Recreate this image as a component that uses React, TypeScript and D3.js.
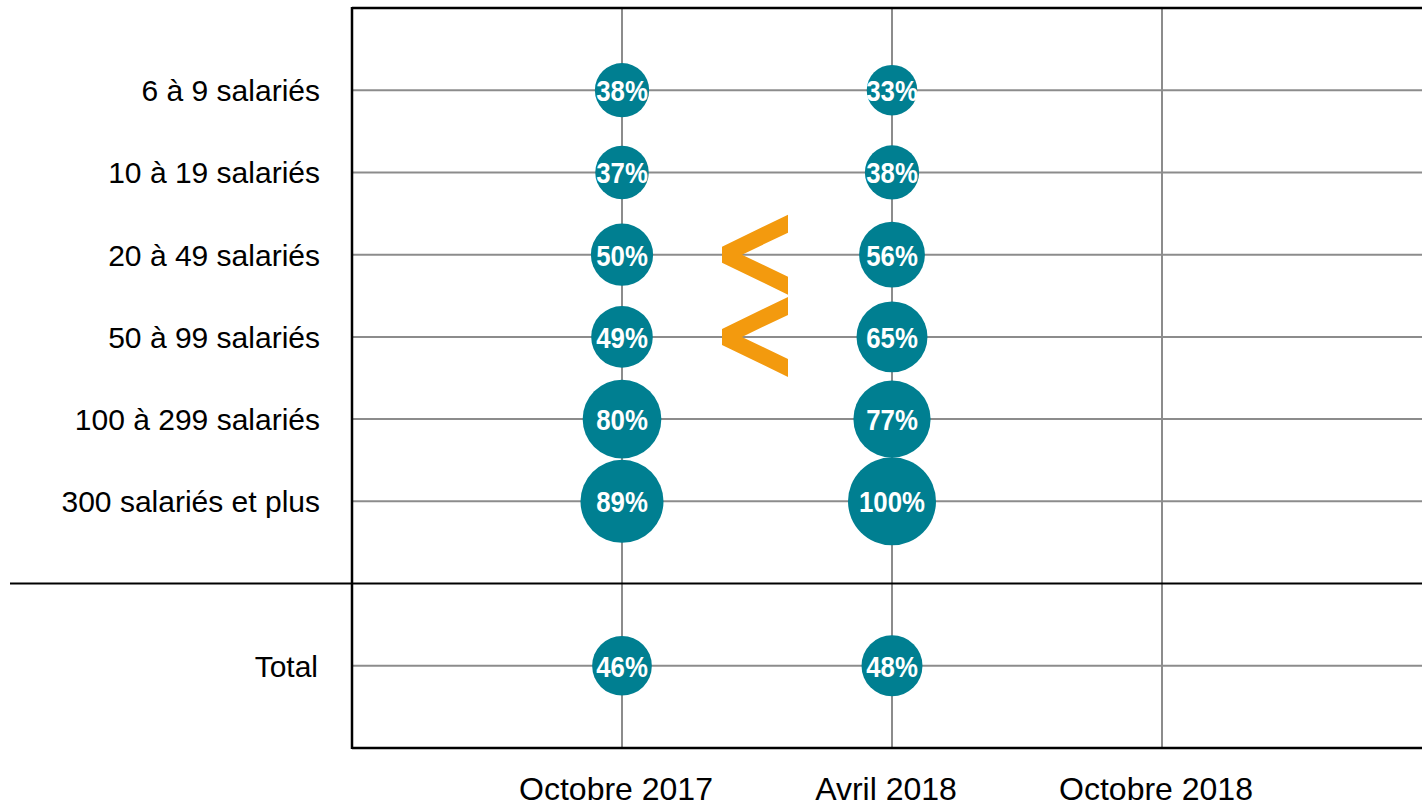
import React from "react";
import * as d3 from "d3";

const categories = [
  "6 à 9 salariés",
  "10 à 19 salariés",
  "20 à 49 salariés",
  "50 à 99 salariés",
  "100 à 299 salariés",
  "300 salariés et plus",
];
const totalLabel = "Total";
const periods = ["Octobre 2017", "Avril 2018", "Octobre 2018"];
const valuesOct2017 = [38, 37, 50, 49, 80, 89];
const valuesAvr2018 = [33, 38, 56, 65, 77, 100];
const totalOct2017 = 46;
const totalAvr2018 = 48;
const increaseRows = ["20 à 49 salariés", "50 à 99 salariés"];

const W = 1422;
const H = 808;
const TEAL = "#007F91";
const GRID = "#8C8C8C";
const ORANGE = "#F39A0E";
const FONT = "'Liberation Sans', Arial, sans-serif";

export default function App() {
  const x = d3.scaleLinear().domain([0, 4]).range([352, 1432]);
  const y = d3.scaleLinear().domain([0, 9]).range([8, 748]);
  const r = d3.scaleSqrt().domain([0, 100]).range([0, 44]);

  const rowIndex = (i: number) => i + 1;
  const totalRow = categories.length + 2;
  const dividerRow = categories.length + 1;

  type Pt = { col: number; row: number; v: number };
  const points: Pt[] = [];
  valuesOct2017.forEach((v, i) => points.push({ col: 1, row: rowIndex(i), v }));
  valuesAvr2018.forEach((v, i) => points.push({ col: 2, row: rowIndex(i), v }));
  points.push({ col: 1, row: totalRow, v: totalOct2017 });
  points.push({ col: 2, row: totalRow, v: totalAvr2018 });

  const gridRows = [...categories.map((_, i) => rowIndex(i)), totalRow];
  const [x0] = x.range();
  const [y0, y1] = y.range();

  const chevron = (cx: number, cy: number) => {
    const pts: [number, number][] = [
      [33, -40], [33, -22], [-13, 0], [33, 22], [33, 40], [-33, 8], [-33, -8],
    ];
    return pts.map(([dx, dy]) => `${cx + dx},${cy + dy}`).join(" ");
  };

  return (
    <svg
      width={W}
      height={H}
      style={{ position: "absolute", left: 0, top: 0, background: "#fff" }}
    >
      {/* horizontal grid */}
      {gridRows.map((row) => (
        <line key={"h" + row} x1={x0} x2={W} y1={y(row)} y2={y(row)} stroke={GRID} strokeWidth={2} />
      ))}
      {/* vertical grid */}
      {periods.map((_, i) => (
        <line key={"v" + i} x1={x(i + 1)} x2={x(i + 1)} y1={y0} y2={y1} stroke={GRID} strokeWidth={2} />
      ))}
      {/* frame */}
      <line x1={x0} x2={x0} y1={y0 - 1} y2={y1 + 1} stroke="#000" strokeWidth={2.5} />
      <line x1={x0} x2={W} y1={y0} y2={y0} stroke="#000" strokeWidth={2.5} />
      <line x1={x0} x2={W} y1={y1} y2={y1} stroke="#000" strokeWidth={2.5} />
      <line x1={10} x2={W} y1={y(dividerRow)} y2={y(dividerRow)} stroke="#000" strokeWidth={2} />

      {/* y labels */}
      {categories.map((c, i) => (
        <text key={c} x={320} y={y(rowIndex(i))} dy={11} textAnchor="end" fontFamily={FONT} fontSize={30} fill="#000">
          {c}
        </text>
      ))}
      <text x={318} y={y(totalRow)} dy={11} textAnchor="end" fontFamily={FONT} fontSize={30} fill="#000">
        {totalLabel}
      </text>

      {/* x labels */}
      {periods.map((p, i) => (
        <text key={p} x={x(i + 1) - 6} y={y1 + 52} textAnchor="middle" fontFamily={FONT} fontSize={32} fill="#000">
          {p}
        </text>
      ))}

      {/* bubbles */}
      {points.map((p, i) => (
        <g key={i}>
          <circle cx={x(p.col)} cy={y(p.row)} r={r(p.v)} fill={TEAL} />
          <g transform={`translate(${x(p.col)},${y(p.row)}) scale(0.86,1)`}>
            <text
              x={0}
              y={0}
              dy={11}
              textAnchor="middle"
              fontFamily={FONT}
              fontWeight="bold"
              fontSize={30}
              fill="#fff"
            >
              {p.v}%
            </text>
          </g>
        </g>
      ))}

      {/* increase markers */}
      {increaseRows.map((c) => (
        <polygon key={c} points={chevron(x(1.5) - 2, y(rowIndex(categories.indexOf(c))))} fill={ORANGE} />
      ))}
    </svg>
  );
}
